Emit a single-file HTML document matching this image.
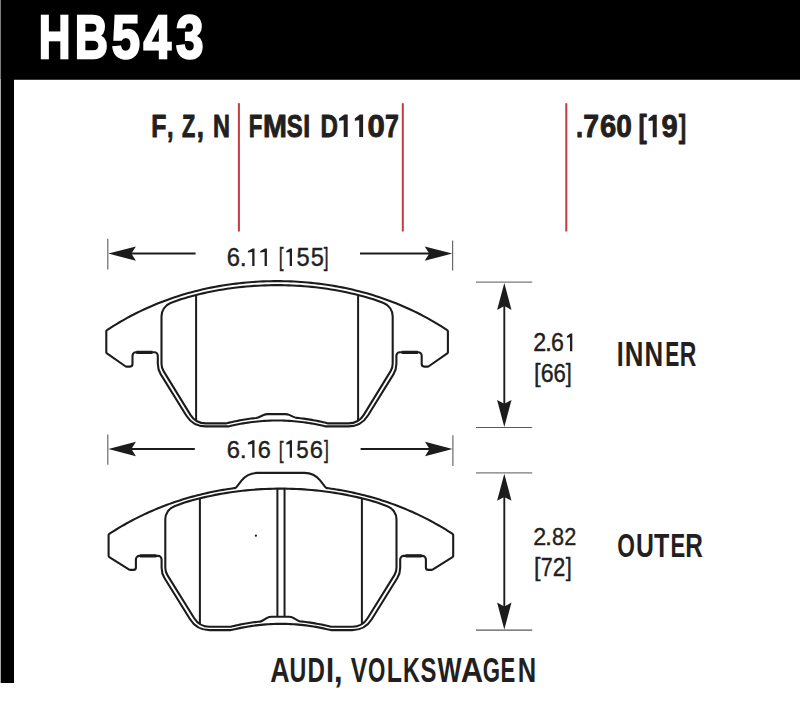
<!DOCTYPE html>
<html><head><meta charset="utf-8"><title>HB543</title>
<style>
html,body{margin:0;padding:0;background:#fff;}
body{width:800px;height:703px;position:relative;overflow:hidden;font-family:"Liberation Sans",sans-serif;}
.topbar{position:absolute;left:0;top:0;width:800px;height:79px;background:#000;}
.topedge{position:absolute;left:14px;top:79px;width:786px;height:1px;background:#3a3a3a;}
.leftbar{position:absolute;left:1px;top:0;width:13px;height:683px;background:#000;}
.leftedge{position:absolute;left:0;top:0;width:1px;height:79px;background:#7c7c7c;}
.leftedge2{position:absolute;left:0;top:79px;width:1px;height:604px;background:#a9a9a9;}
</style></head><body>
<div class="topbar"></div><div class="topedge"></div><div class="leftbar"></div><div class="leftedge"></div><div class="leftedge2"></div>
<svg width="800" height="703" viewBox="0 0 800 703" font-family="Liberation Sans, sans-serif" style="position:absolute;left:0;top:0">
<line x1="238.9" y1="103.2" x2="238.9" y2="231.5" stroke="#c23a40" stroke-width="2"/>
<line x1="402.8" y1="103.2" x2="402.8" y2="231.5" stroke="#c23a40" stroke-width="2"/>
<line x1="566.3" y1="103.2" x2="566.3" y2="231.5" stroke="#c23a40" stroke-width="2"/>
<path d="M277.1 281.14 L273.68 281.16 L270.27 281.21 L266.85 281.29 L263.44 281.41 L260.02 281.56 L256.6 281.75 L253.19 281.97 L249.77 282.23 L246.36 282.52 L242.94 282.84 L239.52 283.2 L236.11 283.6 L232.69 284.03 L229.28 284.5 L225.86 285 L222.44 285.54 L219.03 286.12 L215.61 286.74 L212.2 287.39 L208.78 288.08 L205.36 288.82 L201.95 289.59 L198.53 290.4 L195.12 291.26 L191.7 292.15 L188.28 293.09 L184.87 294.07 L181.45 295.1 L178.04 296.16 L174.62 297.28 L171.2 298.44 L167.79 299.65 L164.37 300.9 L160.96 302.21 L157.54 303.56 L154.12 304.97 L150.71 306.42 L147.29 307.93 L143.88 309.5 L140.46 311.11 L137.04 312.79 L133.63 314.52 L130.21 316.3 L126.8 318.15 L123.38 320.06 L119.96 322.03 L116.55 324.06 L113.13 326.16 L109.72 328.32 L106.98 330.1 A1.5 1.5 0 0 0 106.3 331.36 L106.3 352.22 A1.5 1.5 0 0 0 106.94 353.45 L125.39 366.24 A2 2 0 0 0 126.53 366.6 L130 366.6 A2.5 2.5 0 0 0 132.5 364.1 L132.5 355.8 A3.5 3.5 0 0 1 136 352.3 L154.3 352.3 A3.5 3.5 0 0 1 157.8 355.8 L157.8 363.81 A20 20 0 0 0 160.79 374.34 L186.26 415.5 A23 23 0 0 0 205.82 426.4 L228.52 426.4 L230.95 425.82 L233.38 425.28 L235.81 424.76 L238.24 424.28 L240.67 423.82 L243.09 423.39 L245.52 422.99 L247.95 422.62 L250.38 422.28 L252.81 421.98 L255.24 421.69 L257.67 421.44 L260.1 421.22 L262.53 421.03 L264.96 420.87 L267.38 420.74 L269.81 420.63 L272.24 420.56 L274.67 420.51 L277.1 420.5 L279.53 420.51 L281.96 420.56 L284.39 420.63 L286.82 420.74 L289.24 420.87 L291.67 421.03 L294.1 421.22 L296.53 421.44 L298.96 421.69 L301.39 421.98 L303.82 422.28 L306.25 422.62 L308.68 422.99 L311.11 423.39 L313.53 423.82 L315.96 424.28 L318.39 424.76 L320.82 425.28 L323.25 425.82 L325.68 426.4 L348.38 426.4 A23 23 0 0 0 367.94 415.5 L393.41 374.34 A20 20 0 0 0 396.4 363.81 L396.4 355.8 A3.5 3.5 0 0 1 399.9 352.3 L418.2 352.3 A3.5 3.5 0 0 1 421.7 355.8 L421.7 364.1 A2.5 2.5 0 0 0 424.2 366.6 L427.67 366.6 A2 2 0 0 0 428.81 366.24 L447.26 353.45 A1.5 1.5 0 0 0 447.9 352.22 L447.9 331.36 A1.5 1.5 0 0 0 447.22 330.1 L444.48 328.32 L441.07 326.16 L437.65 324.06 L434.24 322.03 L430.82 320.06 L427.4 318.15 L423.99 316.3 L420.57 314.52 L417.16 312.79 L413.74 311.11 L410.32 309.5 L406.91 307.93 L403.49 306.42 L400.08 304.97 L396.66 303.56 L393.24 302.21 L389.83 300.9 L386.41 299.65 L383 298.44 L379.58 297.28 L376.16 296.16 L372.75 295.1 L369.33 294.07 L365.92 293.09 L362.5 292.15 L359.08 291.26 L355.67 290.4 L352.25 289.59 L348.84 288.82 L345.42 288.08 L342 287.39 L338.59 286.74 L335.17 286.12 L331.76 285.54 L328.34 285 L324.92 284.5 L321.51 284.03 L318.09 283.6 L314.68 283.2 L311.26 282.84 L307.84 282.52 L304.43 282.23 L301.01 281.97 L297.6 281.75 L294.18 281.56 L290.76 281.41 L287.35 281.29 L283.93 281.21 L280.52 281.16 Z" fill="none" stroke="#1c1c1c" stroke-width="2.1" stroke-linejoin="round"/>
<path d="M277.1 285.14 L273.25 285.16 L269.39 285.23 L265.54 285.33 L261.69 285.48 L257.83 285.68 L253.98 285.92 L250.13 286.2 L246.27 286.52 L242.42 286.89 L238.57 287.31 L234.71 287.77 L230.86 288.28 L227.01 288.83 L223.15 289.43 L219.3 290.07 L215.45 290.77 L211.59 291.51 L207.74 292.3 L203.89 293.15 L200.03 294.04 L196.18 294.99 L192.33 295.98 L188.47 297.04 L184.62 298.14 L180.77 299.31 L170.6 303.1 A14 14 0 0 0 161.5 316.22 L161.5 363.84 A14 14 0 0 0 163.58 371.17 L190.43 414.83 A18 18 0 0 0 205.76 423.4 L226.11 423.4 L227.67 423.01 L229.24 422.63 L230.8 422.26 L232.37 421.9 L233.93 421.56 L235.5 421.23 L237.06 420.91 L238.63 420.6 L240.19 420.31 L241.75 420.02 L243.32 419.75 L244.88 419.49 L246.45 419.25 L248.01 419.02 L249.58 418.79 L251.14 418.58 L252.71 418.39 L254.27 418.2 L255.84 418.03 L255.91 418.02 A8.75 8.75 0 0 0 258.75 417.23 L263.58 414.96 A9 9 0 0 1 267.41 414.1 L285.45 414.1 A9 9 0 0 1 289.18 414.91 L294.03 417.11 A9 9 0 0 0 296.9 417.88 L297.03 417.89 L298.67 418.06 L300.3 418.25 L301.94 418.44 L303.57 418.65 L305.21 418.88 L306.84 419.11 L308.48 419.36 L310.11 419.62 L311.75 419.9 L313.38 420.19 L315.01 420.49 L316.65 420.81 L318.28 421.14 L319.92 421.48 L321.55 421.84 L323.19 422.21 L324.82 422.59 L326.46 422.99 L328.09 423.4 L348.44 423.4 A18 18 0 0 0 363.77 414.83 L390.62 371.17 A14 14 0 0 0 392.7 363.84 L392.7 316.22 A14 14 0 0 0 383.6 303.1 L373.43 299.31 L369.58 298.14 L365.73 297.04 L361.87 295.98 L358.02 294.99 L354.17 294.04 L350.31 293.15 L346.46 292.3 L342.61 291.51 L338.75 290.77 L334.9 290.07 L331.05 289.43 L327.19 288.83 L323.34 288.28 L319.49 287.77 L315.63 287.31 L311.78 286.89 L307.93 286.52 L304.07 286.2 L300.22 285.92 L296.37 285.68 L292.51 285.48 L288.66 285.33 L284.81 285.23 L280.95 285.16 Z" fill="none" stroke="#1c1c1c" stroke-width="2.1" stroke-linejoin="round"/>
<path d="M196.1 295.01 L196.1 420.8 M358.1 295.01 L358.1 420.8" fill="none" stroke="#1c1c1c" stroke-width="2"/>
<path d="M136.3 352.3 L152.5 352.3 M417.9 352.3 L401.7 352.3" fill="none" stroke="#1c1c1c" stroke-width="3.2"/>
<path d="M280.9 472.9 L257.33 472.9 A19.98 19.98 0 0 0 241.7 480.44 L236.45 487.03 A3 3 0 0 1 234.51 488.14 L233.16 488.32 L230.62 488.68 L228.07 489.07 L225.53 489.47 L222.99 489.89 L220.45 490.34 L217.91 490.8 L215.36 491.29 L212.82 491.79 L210.28 492.32 L207.74 492.87 L205.2 493.44 L202.65 494.04 L200.11 494.65 L197.57 495.29 L195.03 495.95 L192.49 496.63 L189.94 497.34 L187.4 498.07 L184.86 498.82 L182.32 499.6 L179.78 500.41 L177.23 501.23 L174.69 502.09 L172.15 502.96 L169.61 503.87 L167.07 504.8 L164.52 505.75 L161.98 506.74 L159.44 507.75 L156.9 508.78 L154.36 509.85 L151.81 510.94 L149.27 512.07 L146.73 513.22 L144.19 514.4 L141.65 515.61 L139.1 516.85 L136.56 518.13 L134.02 519.43 L131.48 520.77 L128.94 522.14 L126.39 523.54 L123.85 524.97 L121.31 526.44 L118.77 527.95 L116.23 529.48 L113.68 531.06 L111.14 532.66 L109.28 533.87 A1.5 1.5 0 0 0 108.6 535.13 L108.6 555.87 A1.5 1.5 0 0 0 109.3 557.14 L129.21 569.6 A2 2 0 0 0 130.27 569.9 L133.4 569.9 A2.5 2.5 0 0 0 135.9 567.4 L135.9 559.4 A3.5 3.5 0 0 1 139.4 555.9 L158.1 555.9 A3.5 3.5 0 0 1 161.6 559.4 L161.6 567.7 A20 20 0 0 0 164.61 578.25 L190.05 619.23 A23 23 0 0 0 209.59 630.1 L230.9 630.1 L233.4 629.49 L235.9 628.91 L238.4 628.37 L240.9 627.85 L243.4 627.37 L245.9 626.91 L248.4 626.49 L250.9 626.1 L253.4 625.74 L255.9 625.41 L258.4 625.12 L260.9 624.85 L263.4 624.62 L265.9 624.41 L268.4 624.24 L270.9 624.1 L273.4 623.99 L275.9 623.91 L278.4 623.87 L280.9 623.85 L283.4 623.87 L285.9 623.91 L288.4 623.99 L290.9 624.1 L293.4 624.24 L295.9 624.41 L298.4 624.62 L300.9 624.85 L303.4 625.12 L305.9 625.41 L308.4 625.74 L310.9 626.1 L313.4 626.49 L315.9 626.91 L318.4 627.37 L320.9 627.85 L323.4 628.37 L325.9 628.91 L328.4 629.49 L330.9 630.1 L352.21 630.1 A23 23 0 0 0 371.75 619.23 L397.19 578.25 A20 20 0 0 0 400.2 567.7 L400.2 559.4 A3.5 3.5 0 0 1 403.7 555.9 L422.4 555.9 A3.5 3.5 0 0 1 425.9 559.4 L425.9 567.4 A2.5 2.5 0 0 0 428.4 569.9 L431.53 569.9 A2 2 0 0 0 432.59 569.6 L452.5 557.14 A1.5 1.5 0 0 0 453.2 555.87 L453.2 535.13 A1.5 1.5 0 0 0 452.52 533.87 L450.66 532.66 L448.12 531.06 L445.57 529.48 L443.03 527.95 L440.49 526.44 L437.95 524.97 L435.41 523.54 L432.86 522.14 L430.32 520.77 L427.78 519.43 L425.24 518.13 L422.7 516.85 L420.15 515.61 L417.61 514.4 L415.07 513.22 L412.53 512.07 L409.99 510.94 L407.44 509.85 L404.9 508.78 L402.36 507.75 L399.82 506.74 L397.28 505.75 L394.73 504.8 L392.19 503.87 L389.65 502.96 L387.11 502.09 L384.57 501.23 L382.02 500.41 L379.48 499.6 L376.94 498.82 L374.4 498.07 L371.86 497.34 L369.31 496.63 L366.77 495.95 L364.23 495.29 L361.69 494.65 L359.15 494.04 L356.6 493.44 L354.06 492.87 L351.52 492.32 L348.98 491.79 L346.44 491.29 L343.89 490.8 L341.35 490.34 L338.81 489.89 L336.27 489.47 L333.73 489.07 L331.18 488.68 L328.64 488.32 L327.29 488.14 A3 3 0 0 1 325.35 487.03 L320.1 480.44 A19.98 19.98 0 0 0 304.47 472.9 Z" fill="none" stroke="#1c1c1c" stroke-width="2.1" stroke-linejoin="round"/>
<path d="M280.9 488.64 L277.05 488.66 L273.19 488.72 L269.34 488.83 L265.49 488.98 L261.63 489.17 L257.78 489.4 L253.93 489.68 L250.07 490 L246.22 490.36 L242.37 490.77 L238.51 491.22 L234.66 491.71 L230.81 492.25 L226.95 492.84 L223.1 493.47 L219.25 494.15 L215.39 494.88 L211.54 495.66 L207.69 496.48 L203.83 497.36 L199.98 498.28 L196.13 499.26 L192.27 500.29 L188.42 501.38 L184.57 502.51 L174.49 506.2 A14 14 0 0 0 165.3 519.35 L165.3 567.7 A14 14 0 0 0 167.41 575.09 L194.22 618.2 A18 18 0 0 0 209.5 626.7 L230.9 626.7 L232.4 626.33 L233.91 625.97 L235.41 625.62 L236.92 625.29 L238.42 624.96 L239.93 624.65 L241.44 624.34 L242.94 624.05 L244.44 623.77 L245.95 623.5 L247.45 623.25 L248.96 623 L250.47 622.77 L251.97 622.54 L253.47 622.33 L254.98 622.13 L256.49 621.94 L257.99 621.76 L259.5 621.6 L259.57 621.59 A6.72 6.72 0 0 0 262.24 620.72 L267.11 617.91 A9 9 0 0 1 271.61 616.7 L288.85 616.7 A9 9 0 0 1 293.25 617.85 L298.09 620.57 A7.13 7.13 0 0 0 300.9 621.45 L300.97 621.46 L302.55 621.62 L304.12 621.8 L305.7 621.99 L307.27 622.19 L308.85 622.4 L310.42 622.63 L312 622.87 L313.57 623.12 L315.15 623.38 L316.72 623.66 L318.3 623.95 L319.88 624.25 L321.45 624.56 L323.02 624.89 L324.6 625.22 L326.17 625.57 L327.75 625.94 L329.32 626.31 L330.9 626.7 L352.3 626.7 A18 18 0 0 0 367.58 618.2 L394.39 575.09 A14 14 0 0 0 396.5 567.7 L396.5 519.35 A14 14 0 0 0 387.31 506.2 L377.23 502.51 L373.38 501.38 L369.53 500.29 L365.67 499.26 L361.82 498.28 L357.97 497.36 L354.11 496.48 L350.26 495.66 L346.41 494.88 L342.55 494.15 L338.7 493.47 L334.85 492.84 L330.99 492.25 L327.14 491.71 L323.29 491.22 L319.43 490.77 L315.58 490.36 L311.73 490 L307.87 489.68 L304.02 489.4 L300.17 489.17 L296.31 488.98 L292.46 488.83 L288.61 488.72 L284.75 488.66 Z" fill="none" stroke="#1c1c1c" stroke-width="2.1" stroke-linejoin="round"/>
<path d="M199.9 498.3 L199.9 624.1 M361.9 498.3 L361.9 624.1" fill="none" stroke="#1c1c1c" stroke-width="2"/>
<path d="M140.1 555.9 L156.3 555.9 M421.7 555.9 L405.5 555.9" fill="none" stroke="#1c1c1c" stroke-width="3.2"/>
<path d="M277.4 488.64 L277.4 616.7 M284.55 488.64 L284.55 616.7" fill="none" stroke="#1c1c1c" stroke-width="2"/>
<circle cx="255.9" cy="535.7" r="1.1" fill="#1c1c1c"/>
<line x1="107.8" y1="238.8" x2="107.8" y2="269.4" stroke="#6a6a6a" stroke-width="1.2"/>
<line x1="452.6" y1="240.5" x2="452.6" y2="270.6" stroke="#6a6a6a" stroke-width="1.2"/>
<line x1="127.8" y1="253.6" x2="195.6" y2="253.6" stroke="#1c1c1c" stroke-width="2"/>
<line x1="360.0" y1="253.6" x2="432.6" y2="253.6" stroke="#1c1c1c" stroke-width="2"/>
<path d="M108.4 253.6 L135.9 246.4 L131.4 253.6 L135.9 260.8 Z" fill="#1c1c1c"/>
<path d="M452.2 253.6 L424.7 246.4 L429.2 253.6 L424.7 260.8 Z" fill="#1c1c1c"/>
<line x1="107.8" y1="434.4" x2="107.8" y2="464.7" stroke="#6a6a6a" stroke-width="1.2"/>
<line x1="452.9" y1="435.3" x2="452.9" y2="465.9" stroke="#6a6a6a" stroke-width="1.2"/>
<line x1="127.8" y1="449.0" x2="194.8" y2="449.0" stroke="#1c1c1c" stroke-width="2"/>
<line x1="360.6" y1="449.0" x2="432.9" y2="449.0" stroke="#1c1c1c" stroke-width="2"/>
<path d="M108.4 449 L135.9 441.8 L131.4 449 L135.9 456.2 Z" fill="#1c1c1c"/>
<path d="M452.5 449 L425 441.8 L429.5 449 L425 456.2 Z" fill="#1c1c1c"/>
<line x1="476" y1="282.1" x2="532.2" y2="282.1" stroke="#7a7a7a" stroke-width="1.2"/>
<line x1="476" y1="427.5" x2="532.2" y2="427.5" stroke="#5a5a5a" stroke-width="1.2"/>
<line x1="504.3" y1="302.1" x2="504.3" y2="407.5" stroke="#1c1c1c" stroke-width="1.9"/>
<path d="M504.3 282.9 L497.1 309.9 L504.3 306.1 L511.5 309.9 Z" fill="#1c1c1c"/>
<path d="M504.3 427 L497.1 400 L504.3 403.8 L511.5 400 Z" fill="#1c1c1c"/>
<line x1="476" y1="472.9" x2="532.2" y2="472.9" stroke="#7a7a7a" stroke-width="1.2"/>
<line x1="476" y1="630.1" x2="532.2" y2="630.1" stroke="#5a5a5a" stroke-width="1.2"/>
<line x1="504.3" y1="492.9" x2="504.3" y2="610.1" stroke="#1c1c1c" stroke-width="1.9"/>
<path d="M504.3 473.7 L497.1 500.7 L504.3 496.9 L511.5 500.7 Z" fill="#1c1c1c"/>
<path d="M504.3 629.6 L497.1 602.6 L504.3 606.4 L511.5 602.6 Z" fill="#1c1c1c"/>
<text transform="translate(38.81 58.25) scale(0.7203 1)" font-size="61.05" font-weight="bold" fill="#ffffff" stroke="#ffffff" stroke-width="2.3" stroke-linejoin="miter">H</text>
<text transform="translate(74.67 58.25) scale(0.7548 1)" font-size="61.05" font-weight="bold" fill="#ffffff" stroke="#ffffff" stroke-width="2.3" stroke-linejoin="miter">B</text>
<text transform="translate(111.79 58.25) scale(0.8329 1)" font-size="61.05" font-weight="bold" fill="#ffffff" stroke="#ffffff" stroke-width="2.3" stroke-linejoin="miter">5</text>
<text transform="translate(143.4 58.25) scale(0.8135 1)" font-size="61.05" font-weight="bold" fill="#ffffff" stroke="#ffffff" stroke-width="2.3" stroke-linejoin="miter">4</text>
<text transform="translate(175.91 58.25) scale(0.8107 1)" font-size="61.05" font-weight="bold" fill="#ffffff" stroke="#ffffff" stroke-width="2.3" stroke-linejoin="miter">3</text>
<text transform="translate(151.29 136.55) scale(0.7985 1)" font-size="31.11" font-weight="bold" fill="#231f20" stroke="#231f20" stroke-width="0.9" stroke-linejoin="round">F</text>
<text transform="translate(167.11 136.55) scale(0.7528 1)" font-size="31.11" font-weight="bold" fill="#231f20" stroke="#231f20" stroke-width="0.9" stroke-linejoin="round">,</text>
<text transform="translate(182.1 136.55) scale(0.6986 1)" font-size="31.11" font-weight="bold" fill="#231f20" stroke="#231f20" stroke-width="0.9" stroke-linejoin="round">Z</text>
<text transform="translate(196.69 136.55) scale(0.8314 1)" font-size="31.11" font-weight="bold" fill="#231f20" stroke="#231f20" stroke-width="0.9" stroke-linejoin="round">,</text>
<text transform="translate(212.98 136.55) scale(0.7547 1)" font-size="31.11" font-weight="bold" fill="#231f20" stroke="#231f20" stroke-width="0.9" stroke-linejoin="round">N</text>
<text transform="translate(248.76 136.55) scale(0.7127 1)" font-size="31.25" font-weight="bold" fill="#231f20" stroke="#231f20" stroke-width="0.9" stroke-linejoin="round">F</text>
<text transform="translate(263.03 136.55) scale(0.9199 1)" font-size="31.25" font-weight="bold" fill="#231f20" stroke="#231f20" stroke-width="0.9" stroke-linejoin="round">M</text>
<text transform="translate(286.76 136.55) scale(0.7638 1)" font-size="31.25" font-weight="bold" fill="#231f20" stroke="#231f20" stroke-width="0.9" stroke-linejoin="round">S</text>
<text transform="translate(303.28 136.55) scale(0.7997 1)" font-size="31.25" font-weight="bold" fill="#231f20" stroke="#231f20" stroke-width="0.9" stroke-linejoin="round">I</text>
<text transform="translate(320.54 136.55) scale(0.7722 1)" font-size="31.25" font-weight="bold" fill="#231f20" stroke="#231f20" stroke-width="0.9" stroke-linejoin="round">D</text>
<path d="M347.7 137 L347.7 114.6 L344.3 114.6 L339 118.52 L339 120.8 L343.7 120.2 L343.7 137 Z" fill="#231f20"/>
<path d="M363.1 137 L363.1 114.6 L359.78 114.6 L354.8 118.52 L354.8 120.8 L359.2 120.2 L359.2 137 Z" fill="#231f20"/>
<text transform="translate(367.62 136.55) scale(0.9958 1)" font-size="31.25" font-weight="bold" fill="#231f20" stroke="#231f20" stroke-width="0.9" stroke-linejoin="round">0</text>
<text transform="translate(385.08 136.55) scale(0.7979 1)" font-size="31.25" font-weight="bold" fill="#231f20" stroke="#231f20" stroke-width="0.9" stroke-linejoin="round">7</text>
<text transform="translate(575.97 136.8) scale(0.8126 1)" font-size="31.4" font-weight="bold" fill="#231f20" stroke="#231f20" stroke-width="0.9" stroke-linejoin="round">.</text>
<text transform="translate(583.23 136.8) scale(0.9062 1)" font-size="31.4" font-weight="bold" fill="#231f20" stroke="#231f20" stroke-width="0.9" stroke-linejoin="round">7</text>
<text transform="translate(599.88 136.8) scale(0.9291 1)" font-size="31.4" font-weight="bold" fill="#231f20" stroke="#231f20" stroke-width="0.9" stroke-linejoin="round">6</text>
<text transform="translate(616.34 136.8) scale(0.8941 1)" font-size="31.4" font-weight="bold" fill="#231f20" stroke="#231f20" stroke-width="0.9" stroke-linejoin="round">0</text>
<text transform="translate(638.55 136.8) scale(0.7943 1)" font-size="31.4" font-weight="bold" fill="#231f20" stroke="#231f20" stroke-width="0.9" stroke-linejoin="round">[</text>
<path d="M656.75 137.25 L656.75 114.75 L653.35 114.75 L648.5 118.69 L648.5 120.98 L652.75 120.38 L652.75 137.25 Z" fill="#231f20"/>
<text transform="translate(661.44 136.8) scale(0.9272 1)" font-size="31.4" font-weight="bold" fill="#231f20" stroke="#231f20" stroke-width="0.9" stroke-linejoin="round">9</text>
<text transform="translate(678.68 136.8) scale(0.7041 1)" font-size="31.4" font-weight="bold" fill="#231f20" stroke="#231f20" stroke-width="0.9" stroke-linejoin="round">]</text>
<text transform="translate(226.79 265.8) scale(0.9535 1)" font-size="25" font-weight="normal" fill="#231f20" stroke="#231f20" stroke-width="0.4" stroke-linejoin="round">6</text>
<text transform="translate(239.8 265.8) scale(1.0082 1)" font-size="25" font-weight="normal" fill="#231f20" stroke="#231f20" stroke-width="0.4" stroke-linejoin="round">.</text>
<path d="M254.5 266 L254.5 248.4 L252.54 248.4 L247.9 250.97 L247.9 252.62 L252.2 252.02 L252.2 266 Z" fill="#231f20"/>
<path d="M266.9 266 L266.9 248.4 L264.94 248.4 L260.3 250.97 L260.3 252.62 L264.6 252.02 L264.6 266 Z" fill="#231f20"/>
<text transform="translate(278.71 265.8) scale(0.6944 1)" font-size="25" font-weight="normal" fill="#231f20" stroke="#231f20" stroke-width="0.4" stroke-linejoin="round">[</text>
<path d="M292 266 L292 248.4 L290.05 248.4 L286.3 250.97 L286.3 252.62 L289.7 252.02 L289.7 266 Z" fill="#231f20"/>
<text transform="translate(296.55 265.8) scale(0.9449 1)" font-size="25" font-weight="normal" fill="#231f20" stroke="#231f20" stroke-width="0.4" stroke-linejoin="round">5</text>
<text transform="translate(310.65 265.8) scale(0.9449 1)" font-size="25" font-weight="normal" fill="#231f20" stroke="#231f20" stroke-width="0.4" stroke-linejoin="round">5</text>
<text transform="translate(323.81 265.8) scale(0.6944 1)" font-size="25" font-weight="normal" fill="#231f20" stroke="#231f20" stroke-width="0.4" stroke-linejoin="round">]</text>
<text transform="translate(226.79 457.5) scale(0.9648 1)" font-size="24.71" font-weight="normal" fill="#231f20" stroke="#231f20" stroke-width="0.4" stroke-linejoin="round">6</text>
<text transform="translate(239.8 457.5) scale(1.0201 1)" font-size="24.71" font-weight="normal" fill="#231f20" stroke="#231f20" stroke-width="0.4" stroke-linejoin="round">.</text>
<path d="M254.5 457.7 L254.5 440.3 L252.54 440.3 L247.9 442.84 L247.9 444.48 L252.2 443.88 L252.2 457.7 Z" fill="#231f20"/>
<text transform="translate(257.86 457.5) scale(0.9516 1)" font-size="24.71" font-weight="normal" fill="#231f20" stroke="#231f20" stroke-width="0.4" stroke-linejoin="round">6</text>
<text transform="translate(278.71 457.5) scale(0.7026 1)" font-size="24.71" font-weight="normal" fill="#231f20" stroke="#231f20" stroke-width="0.4" stroke-linejoin="round">[</text>
<path d="M292 457.7 L292 440.3 L290.05 440.3 L286.3 442.84 L286.3 444.48 L289.7 443.88 L289.7 457.7 Z" fill="#231f20"/>
<text transform="translate(296.2 457.5) scale(0.9048 1)" font-size="24.71" font-weight="normal" fill="#231f20" stroke="#231f20" stroke-width="0.4" stroke-linejoin="round">5</text>
<text transform="translate(309.69 457.5) scale(0.9648 1)" font-size="24.71" font-weight="normal" fill="#231f20" stroke="#231f20" stroke-width="0.4" stroke-linejoin="round">6</text>
<text transform="translate(324.06 457.5) scale(0.7127 1)" font-size="24.71" font-weight="normal" fill="#231f20" stroke="#231f20" stroke-width="0.4" stroke-linejoin="round">]</text>
<text transform="translate(533.13 351) scale(0.9307 1)" font-size="25" font-weight="normal" fill="#231f20" stroke="#231f20" stroke-width="0.4" stroke-linejoin="round">2</text>
<text transform="translate(544.9 351) scale(1.0082 1)" font-size="25" font-weight="normal" fill="#231f20" stroke="#231f20" stroke-width="0.4" stroke-linejoin="round">.</text>
<text transform="translate(550.92 351) scale(0.9275 1)" font-size="25" font-weight="normal" fill="#231f20" stroke="#231f20" stroke-width="0.4" stroke-linejoin="round">6</text>
<path d="M572.3 351.2 L572.3 333.6 L570.35 333.6 L566.9 336.17 L566.9 337.82 L570 337.22 L570 351.2 Z" fill="#231f20"/>
<text transform="translate(534.01 381.5) scale(0.9515 1)" font-size="24.86" font-weight="normal" fill="#231f20" stroke="#231f20" stroke-width="0.4" stroke-linejoin="round">[</text>
<text transform="translate(540.72 381.5) scale(0.9330 1)" font-size="24.86" font-weight="normal" fill="#231f20" stroke="#231f20" stroke-width="0.4" stroke-linejoin="round">6</text>
<text transform="translate(553.58 381.5) scale(0.8894 1)" font-size="24.86" font-weight="normal" fill="#231f20" stroke="#231f20" stroke-width="0.4" stroke-linejoin="round">6</text>
<text transform="translate(565.63 381.5) scale(0.8705 1)" font-size="24.86" font-weight="normal" fill="#231f20" stroke="#231f20" stroke-width="0.4" stroke-linejoin="round">]</text>
<text transform="translate(533.13 545.4) scale(0.9472 1)" font-size="24.56" font-weight="normal" fill="#231f20" stroke="#231f20" stroke-width="0.4" stroke-linejoin="round">2</text>
<text transform="translate(545.1 545.4) scale(1.0261 1)" font-size="24.56" font-weight="normal" fill="#231f20" stroke="#231f20" stroke-width="0.4" stroke-linejoin="round">.</text>
<text transform="translate(552.06 545.4) scale(0.8849 1)" font-size="24.56" font-weight="normal" fill="#231f20" stroke="#231f20" stroke-width="0.4" stroke-linejoin="round">8</text>
<text transform="translate(564.21 545.4) scale(0.8847 1)" font-size="24.56" font-weight="normal" fill="#231f20" stroke="#231f20" stroke-width="0.4" stroke-linejoin="round">2</text>
<text transform="translate(534.01 575.7) scale(0.9515 1)" font-size="24.86" font-weight="normal" fill="#231f20" stroke="#231f20" stroke-width="0.4" stroke-linejoin="round">[</text>
<text transform="translate(540.79 575.7) scale(0.8673 1)" font-size="24.86" font-weight="normal" fill="#231f20" stroke="#231f20" stroke-width="0.4" stroke-linejoin="round">7</text>
<text transform="translate(552.66 575.7) scale(0.9096 1)" font-size="24.86" font-weight="normal" fill="#231f20" stroke="#231f20" stroke-width="0.4" stroke-linejoin="round">2</text>
<text transform="translate(565.63 575.7) scale(0.8705 1)" font-size="24.86" font-weight="normal" fill="#231f20" stroke="#231f20" stroke-width="0.4" stroke-linejoin="round">]</text>
<text transform="translate(616.83 365.8) scale(0.7286 1)" font-size="34.3" font-weight="bold" fill="#231f20">I</text>
<text transform="translate(624.87 365.8) scale(0.7537 1)" font-size="34.3" font-weight="bold" fill="#231f20">N</text>
<text transform="translate(644.57 365.8) scale(0.7537 1)" font-size="34.3" font-weight="bold" fill="#231f20">N</text>
<text transform="translate(665.19 365.8) scale(0.6131 1)" font-size="34.3" font-weight="bold" fill="#231f20">E</text>
<text transform="translate(679.66 365.8) scale(0.6705 1)" font-size="34.3" font-weight="bold" fill="#231f20">R</text>
<text transform="translate(617.27 557.1) scale(0.7015 1)" font-size="32.41" font-weight="bold" fill="#231f20">O</text>
<text transform="translate(636.01 557.1) scale(0.7648 1)" font-size="32.41" font-weight="bold" fill="#231f20">U</text>
<text transform="translate(653.92 557.1) scale(0.7754 1)" font-size="32.41" font-weight="bold" fill="#231f20">T</text>
<text transform="translate(670.52 557.1) scale(0.6819 1)" font-size="32.41" font-weight="bold" fill="#231f20">E</text>
<text transform="translate(685.17 557.1) scale(0.7533 1)" font-size="32.41" font-weight="bold" fill="#231f20">R</text>
<text transform="translate(270.13 681.8) scale(0.7596 1)" font-size="35.32" font-weight="bold" fill="#231f20">A</text>
<text transform="translate(289.6 681.8) scale(0.6594 1)" font-size="35.32" font-weight="bold" fill="#231f20">U</text>
<text transform="translate(307.59 681.8) scale(0.6832 1)" font-size="35.32" font-weight="bold" fill="#231f20">D</text>
<text transform="translate(326.05 681.8) scale(0.8255 1)" font-size="35.32" font-weight="bold" fill="#231f20">I</text>
<text transform="translate(333.82 681.8) scale(0.9103 1)" font-size="35.32" font-weight="bold" fill="#231f20">,</text>
<text transform="translate(350.83 681.8) scale(0.7020 1)" font-size="35.32" font-weight="bold" fill="#231f20">V</text>
<text transform="translate(367.89 681.8) scale(0.6316 1)" font-size="35.32" font-weight="bold" fill="#231f20">O</text>
<text transform="translate(386.83 681.8) scale(0.7062 1)" font-size="35.32" font-weight="bold" fill="#231f20">L</text>
<text transform="translate(402.95 681.8) scale(0.6574 1)" font-size="35.32" font-weight="bold" fill="#231f20">K</text>
<text transform="translate(420.51 681.8) scale(0.6758 1)" font-size="35.32" font-weight="bold" fill="#231f20">S</text>
<text transform="translate(437.58 681.8) scale(0.7214 1)" font-size="35.32" font-weight="bold" fill="#231f20">W</text>
<text transform="translate(460.63 681.8) scale(0.8778 1)" font-size="35.32" font-weight="bold" fill="#231f20">A</text>
<text transform="translate(482.69 681.8) scale(0.6293 1)" font-size="35.32" font-weight="bold" fill="#231f20">G</text>
<text transform="translate(500.62 681.8) scale(0.6258 1)" font-size="35.32" font-weight="bold" fill="#231f20">E</text>
<text transform="translate(517.69 681.8) scale(0.7224 1)" font-size="35.32" font-weight="bold" fill="#231f20">N</text>
</svg>
</body></html>
